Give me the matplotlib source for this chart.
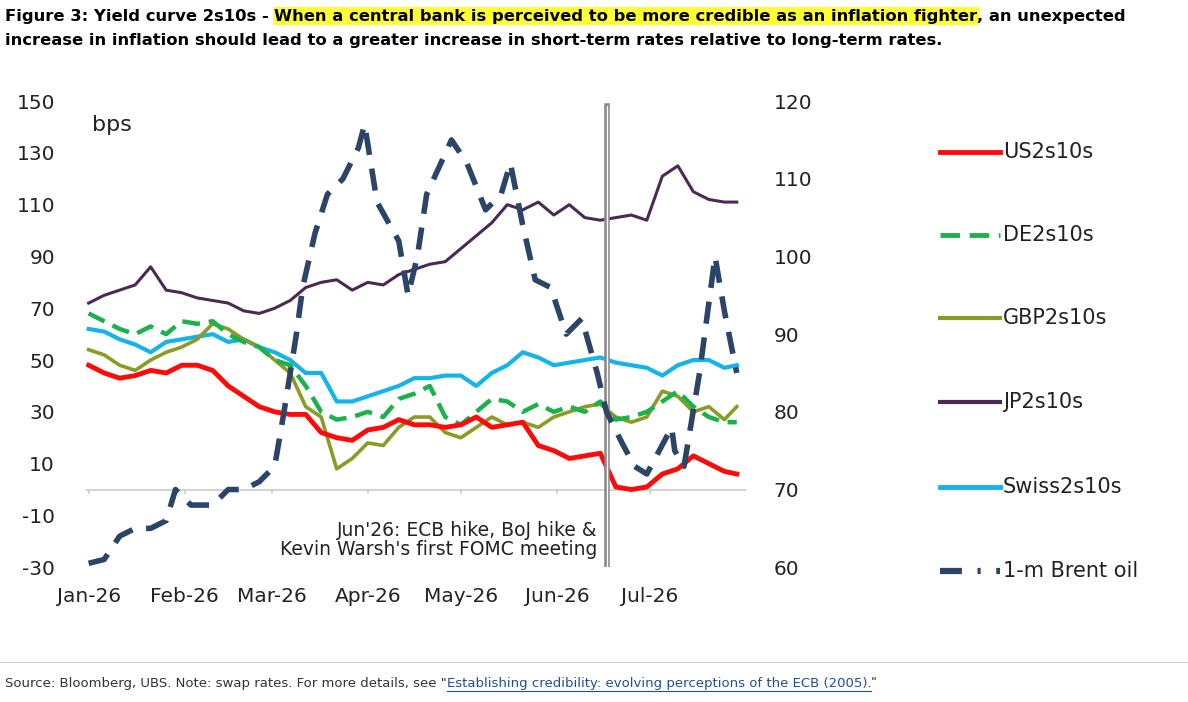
import matplotlib
matplotlib.use("Agg")
import matplotlib.pyplot as plt
from matplotlib.lines import Line2D
import numpy as np
import datetime as dt

plt.rcParams['axes.unicode_minus'] = False

base = dt.date(2026, 1, 1)
days = [0,5,10,15,20,25,30,35,40,45,50,55,60,65,70,75,80,85,90,95,100,105,110,115,120,125,130,135,140,145,150,155,160,165,170,175,180,185,190,195,200,205,209]

us = [48,45,43,44,46,45,48,48,46,40,36,32,30,29,29,22,20,19,23,24,27,25,25,24,25,28,24,25,26,17,15,12,13,14,1,0,1,6,8,13,10,7,6]
de = [68,65,62,60,63,60,65,64,65,60,57,55,50,48,40,30,27,28,30,28,35,37,40,28,25,30,35,34,30,33,30,32,30,34,27,28,30,34,38,32,28,26,26]
gbp = [54,52,48,46,50,53,55,58,64,62,58,55,50,45,32,28,8,12,18,17,24,28,28,22,20,24,28,25,26,24,28,30,32,33,28,26,28,38,36,30,32,27,32]
jp = [72,75,77,79,86,77,76,74,73,72,69,68,70,73,78,80,81,77,80,79,83,85,87,88,93,98,103,110,108,111,106,110,105,104,105,106,104,121,125,115,112,111,111]
swiss = [62,61,58,56,53,57,58,59,60,57,58,55,53,50,45,45,34,34,36,38,40,43,43,44,44,40,45,48,53,51,48,49,50,51,49,48,47,44,48,50,50,47,48]

brent_days = [0,5,10,15,20,25,28,33,40,45,50,55,60,63,67,69,73,77,82,87,89,93,100,103,106,109,117,122,128,133,136,140,144,149,154,159,164,167,172,176,180,188,189,192,197,202,205,209]
brent = [60.5,61,64,65,65,66,70,68,68,70,70,71,73,80,90,96,103,108,110,114,117,107,102,95,100,108,115,112,106,108,112,104,97,96,90,92,85,80,76,73,72,78,75,73,85,100,93,85]

def to_dates(d):
    return [base + dt.timedelta(days=int(x)) for x in d]

fig = plt.figure(figsize=(11.88, 7.02), dpi=100)
ax = fig.add_axes([0.072, 0.192, 0.556, 0.664])
ax2 = ax.twinx()

x = to_dates(days)
ax.plot(x, jp, color="#4B2A52", lw=2.2, zorder=3)
ax.plot(x, swiss, color="#14B4EB", lw=3, zorder=3)
ax.plot(x, gbp, color="#8C9A26", lw=2.6, zorder=4)
ax.plot(x, de, color="#19B24B", lw=3.2, ls=(0, (4, 2)), zorder=4)
ax.plot(x, us, color="#FF0A0A", lw=3.5, zorder=5)
ax2.plot(to_dates(brent_days), brent, color="#2B4468", lw=4, ls=(0, (4, 2.5)), zorder=6)

ax.set_xlim(base + dt.timedelta(days=-1), base + dt.timedelta(days=212))
ax.set_ylim(-30, 150)
ax2.set_ylim(60, 120)
ax.set_yticks(range(-30, 151, 20))
ax2.set_yticks(range(60, 121, 10))
for a in (ax, ax2):
    for s in a.spines.values():
        s.set_visible(False)
    a.tick_params(length=0, labelsize=14.5, colors="#222222")
ax.tick_params(axis='y', pad=22)
ax2.tick_params(axis='y', pad=20)
ax.axhline(0, color="#CCCCCC", lw=1.2, zorder=1)
months = [base.replace(month=m) for m in range(1, 8)]
ax.set_xticks(months)
ax.set_xticklabels([m.strftime("%b-26") for m in months])
ax.tick_params(axis='x', pad=14)
for m in months:
    ax.plot([m, m], [-1.5, 0], color="#CCCCCC", lw=1.2, clip_on=False)

vl = base + dt.timedelta(days=167)
ax.axvline(vl, color="#888888", lw=4, ymin=0.0, ymax=0.99, zorder=7)
ax.axvline(vl, color="white", lw=1, ymin=0.0, ymax=0.99, zorder=8)
ax.text(base + dt.timedelta(days=164), -27, "Jun'26: ECB hike, BoJ hike &\nKevin Warsh's first FOMC meeting",
        ha="right", va="bottom", fontsize=13.5, color="#222222", linespacing=1.05)
ax.text(0.01, 0.97, "bps", transform=ax.transAxes, fontsize=16, va="top", color="#222222")

# legend
items = [("US2s10s", "#FF0A0A", "-", 3.5), ("DE2s10s", "#19B24B", (0, (4, 2)), 3.5),
         ("GBP2s10s", "#8C9A26", "-", 3), ("JP2s10s", "#4B2A52", "-", 3),
         ("Swiss2s10s", "#14B4EB", "-", 3.5), ("1-m Brent oil", "#2B4468", (0, (3.5, 2.5, 0.5, 2.5)), 4.5)]
ys = [152, 235, 318, 402, 487, 571]
for (lab, c, ls, lw), yp in zip(items, ys):
    fy = 1 - yp / 702
    fig.add_artist(Line2D([940/1188, 1000/1188], [fy, fy], color=c, ls=ls, lw=lw))
    fig.text(1003/1188, fy, lab, fontsize=15, va="center", color="#222222")

# title
fig.canvas.draw()
r = fig.canvas.get_renderer()
fs = 11.8
t1 = fig.text(0.004, 1 - 16/702, "Figure 3: Yield curve 2s10s - ", fontsize=fs, fontweight="bold", va="center")
bb = t1.get_window_extent(r)
t2 = fig.text(bb.x1/1188, 1 - 16/702, "When a central bank is perceived to be more credible as an inflation fighter",
              fontsize=fs, fontweight="bold", va="center",
              bbox=dict(facecolor="#FFFF33", edgecolor="none", pad=1))
bb2 = t2.get_window_extent(r)
fig.text(bb2.x1/1188, 1 - 16/702, ", an unexpected", fontsize=fs, fontweight="bold", va="center")
fig.text(0.004, 1 - 40/702, "increase in inflation should lead to a greater increase in short-term rates relative to long-term rates.",
         fontsize=fs, fontweight="bold", va="center")

fig.add_artist(Line2D([0, 1], [1 - 662/702, 1 - 662/702], color="#CCCCCC", lw=0.8))
s1 = fig.text(0.004, 1 - 683/702, 'Source: Bloomberg, UBS. Note: swap rates. For more details, see "', fontsize=9.5, va="center", color="#333333")
b = s1.get_window_extent(r)
s2 = fig.text(b.x1/1188, 1 - 683/702, "Establishing credibility: evolving perceptions of the ECB (2005).", fontsize=9.5, va="center", color="#1F4E9A")
b2 = s2.get_window_extent(r)
fig.add_artist(Line2D([b.x1/1188, b2.x1/1188], [1 - 691/702]*2, color="#1F4E9A", lw=0.8))
fig.text(b2.x1/1188, 1 - 683/702, '"', fontsize=9.5, va="center", color="#333333")

fig.savefig("out.png", dpi=100)
